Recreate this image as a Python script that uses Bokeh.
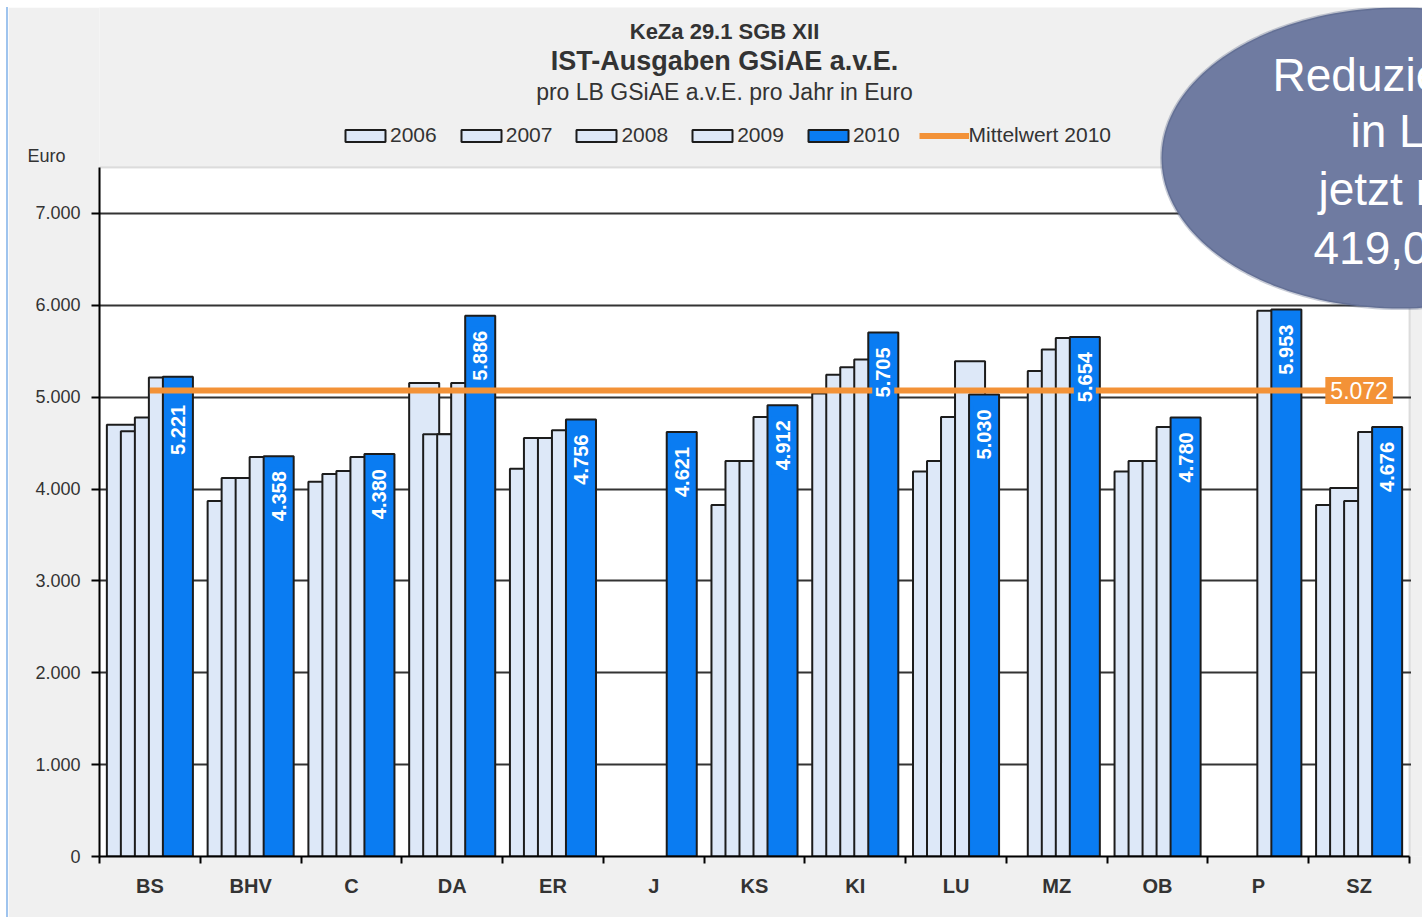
import math
from bokeh.plotting import figure
from bokeh.models import (Range1d, FixedTicker, Legend, LegendItem, Label,
                          PolyAnnotation, BoxAnnotation, ColumnDataSource)
from bokeh.core.properties import value
from bokeh.embed import file_html
from bokeh.resources import INLINE

# ---------------- data ----------------
categories = ["BS", "BHV", "C", "DA", "ER", "J", "KS", "KI", "LU", "MZ", "OB", "P", "SZ"]
years = ["2006", "2007", "2008", "2009", "2010"]
v2006 = [4700, 3870, 4080, 5155, 4220, None, 3825, 5040, 4190, None, 4190, None, 3825]
v2007 = [4630, 4120, 4165, 4595, 4555, None, 4305, 5245, 4305, 5285, 4305, None, 4010]
v2008 = [4780, 4120, 4195, 4595, 4555, None, 4305, 5325, 4785, 5520, 4305, None, 3870]
v2009 = [5215, 4350, 4350, 5155, 4640, None, 4785, 5410, 5390, 5645, 4675, 5940, 4620]
v2010 = [5221, 4358, 4380, 5886, 4756, 4621, 4912, 5705, 5030, 5654, 4780, 5953, 4676]
mean_2010 = 5072
y_ticks = [0, 1000, 2000, 3000, 4000, 5000, 6000, 7000]
y_tick_labels = ["0", "1.000", "2.000", "3.000", "4.000", "5.000", "6.000", "7.000"]
y_max = 7500
title_lines = ["KeZa 29.1 SGB XII", "IST-Ausgaben GSiAE a.v.E.", "pro LB GSiAE a.v.E. pro Jahr in Euro"]
mean_label = "Mittelwert 2010"
y_unit = "Euro"
bubble_lines = ["Reduzierung", "in LB", "jetzt nur", "419,00 €"]

def de(v):
    return f"{v:,}".replace(",", ".")

# ---------------- style ----------------
SANS = "'Liberation Sans', Arial, sans-serif"
LIGHT = "#dde8f8"
BLUE = "#0a7cf2"
ORANGE = "#f39237"
OUTLINE = "#1c1c1c"
TXT = "#333333"
BG = "#f0f0f0"

step = 0.139
bar_w = 0.298
n_cat = len(categories)
label_shift = [24] + [11] * (n_cat - 1)   # px below bar top (BS label sits lower)

# canvas placed at page (8, 7); frame left at page x=99, bottom at page y=856
W, H = 1414, 910
left_px, bottom_px, top_px, right_px = 91, 849, 160, 1401
px_per_cat = (right_px - left_px) / n_cat
x_end = -0.5 + (W - left_px) / px_per_cat
y_end = y_max * bottom_px / (bottom_px - top_px)

p = figure(width=W, height=H, output_backend="svg", toolbar_location=None,
           x_range=Range1d(-0.5, x_end), y_range=Range1d(0, y_end),
           min_border_left=left_px, min_border_right=0, min_border_top=0,
           min_border_bottom=H - bottom_px)
p.styles = {"margin-left": "8px", "margin-top": "7px",
            "box-shadow": "-2px 0px 0px 0px #9fc4ee"}
p.border_fill_color = BG
p.background_fill_color = BG
p.outline_line_color = None

# white plot area
p.add_layout(BoxAnnotation(left=-0.5, right=n_cat - 0.5, bottom=0, top=y_max,
                           fill_color="white", fill_alpha=1.0,
                           line_color="#9a9a9a", line_width=2, level="image"))

p.xgrid.grid_line_color = None
p.ygrid.grid_line_color = "#333333"
p.ygrid.grid_line_width = 2
p.ygrid.ticker = FixedTicker(ticks=y_ticks)

# keep the grid lines inside the plot area (strip right of it)
p.add_layout(BoxAnnotation(left=n_cat - 0.5 + 1.5 / px_per_cat, right=x_end + 1,
                           bottom=0, top=y_max, fill_color=BG, fill_alpha=1.0,
                           line_color=None, level="underlay"))

# y axis (unit label "Euro" sits at the top of the axis)
p.yaxis.ticker = FixedTicker(ticks=y_ticks + [y_max], minor_ticks=y_ticks)
overrides = {t: l for t, l in zip(y_ticks, y_tick_labels)}
overrides[y_max] = y_unit + "\u00a0\u00a0\u00a0\n "
p.yaxis.major_label_overrides = overrides
p.yaxis.bounds = (0, y_max)
p.yaxis.axis_line_color = "black"
p.yaxis.axis_line_width = 2
p.yaxis.major_tick_line_color = None
p.yaxis.major_tick_out = 8
p.yaxis.major_tick_in = 0
p.yaxis.minor_tick_line_color = "black"
p.yaxis.minor_tick_line_width = 2
p.yaxis.minor_tick_out = 8
p.yaxis.minor_tick_in = 0
p.yaxis.major_label_standoff = 11
p.yaxis.major_label_text_font = SANS
p.yaxis.major_label_text_font_size = "18px"
p.yaxis.major_label_text_color = TXT

idx = list(range(n_cat))
p.xaxis.ticker = FixedTicker(ticks=idx, minor_ticks=[i - 0.5 for i in range(n_cat + 1)])
p.xaxis.major_label_overrides = {i: c for i, c in zip(idx, categories)}
p.xaxis.bounds = (-0.5, n_cat - 0.5)
p.xaxis.axis_line_color = "black"
p.xaxis.axis_line_width = 2
p.xaxis.major_tick_line_color = None
p.xaxis.major_tick_out = 0
p.xaxis.major_tick_in = 0
p.xaxis.minor_tick_line_color = "black"
p.xaxis.minor_tick_line_width = 2
p.xaxis.minor_tick_out = 7
p.xaxis.minor_tick_in = 0
p.xaxis.major_label_standoff = 11
p.xaxis.major_label_text_font = SANS
p.xaxis.major_label_text_font_style = "bold"
p.xaxis.major_label_text_font_size = "20px"
p.xaxis.major_label_text_color = TXT

# bars
series = [v2006, v2007, v2008, v2009, v2010]
renderers = []
for k, (yr, vals) in enumerate(zip(years, series)):
    xs, tops = [], []
    for i, v in enumerate(vals):
        if v is not None:
            xs.append(i + (k - 2) * step)
            tops.append(v)
    src = ColumnDataSource(dict(x=xs, top=tops))
    r = p.vbar(x="x", top="top", width=bar_w, bottom=0, source=src,
               fill_color=BLUE if yr == "2010" else LIGHT,
               line_color=OUTLINE, line_width=2)
    renderers.append(r)

# mean line
mean_src = ColumnDataSource(dict(x=[0, n_cat - 1], y=[mean_2010, mean_2010]))
line_r = p.line(x="x", y="y", source=mean_src, line_color=ORANGE, line_width=6)

# value labels on 2010 bars
lab_src = ColumnDataSource(dict(x=[i + 2 * step for i in idx], y=v2010,
                                text=[de(v) for v in v2010], dy=label_shift))
p.text(x="x", y="y", text="text", source=lab_src, angle=math.pi / 2,
       text_align="right", text_baseline="middle", y_offset="dy",
       text_color="white", text_font=value(SANS), text_font_style="bold",
       text_font_size="20px", background_fill_color=BLUE, padding=4)

# mean value label
p.add_layout(Label(x=n_cat - 1, y=mean_2010, text=de(mean_2010),
                   text_align="center", text_baseline="middle",
                   text_color="white", text_font=SANS, text_font_size="23px",
                   background_fill_color=ORANGE, padding=5))

# legend
items = [LegendItem(label=yr, renderers=[r]) for yr, r in zip(years, renderers)]
items.append(LegendItem(label=mean_label, renderers=[line_r]))
legend = Legend(items=items, orientation="horizontal", location=(241, 709),
                glyph_width=50, glyph_height=15, label_standoff=0, spacing=19,
                padding=0, margin=0, border_line_alpha=0, background_fill_alpha=0,
                label_text_font=SANS, label_text_font_size="21px",
                label_text_color=TXT)
p.add_layout(legend)

# titles (screen units, relative to frame bottom-left)
for txt, y, size, style in zip(title_lines, [825, 796, 765], ["22px", "27px", "23px"],
                               ["bold", "bold", "normal"]):
    p.add_layout(Label(x=625, y=y, x_units="screen", y_units="screen", text=txt,
                       text_align="center", text_baseline="middle",
                       text_font=SANS, text_font_size=size, text_font_style=style,
                       text_color=TXT))

# callout ellipse
cx, cy, a, b = 1301, 698.5, 239, 150.5
n = 180
exs = [cx + a * math.cos(2 * math.pi * t / n) for t in range(n)]
eys = [cy + b * math.sin(2 * math.pi * t / n) for t in range(n)]
p.add_layout(PolyAnnotation(xs=exs, ys=eys, xs_units="screen", ys_units="screen",
                            fill_color="#6f7ba1", fill_alpha=1.0,
                            line_color="#4a5679", line_width=3))
for txt, x, y in zip(bubble_lines, [1173, 1251, 1219, 1214], [781.5, 726, 668, 609]):
    p.add_layout(Label(x=x, y=y, x_units="screen", y_units="screen", text=txt,
                       text_align="left", text_baseline="middle", text_font=SANS,
                       text_font_size="46px", text_color="white"))

open("out.html", "w").write(file_html(p, INLINE))
